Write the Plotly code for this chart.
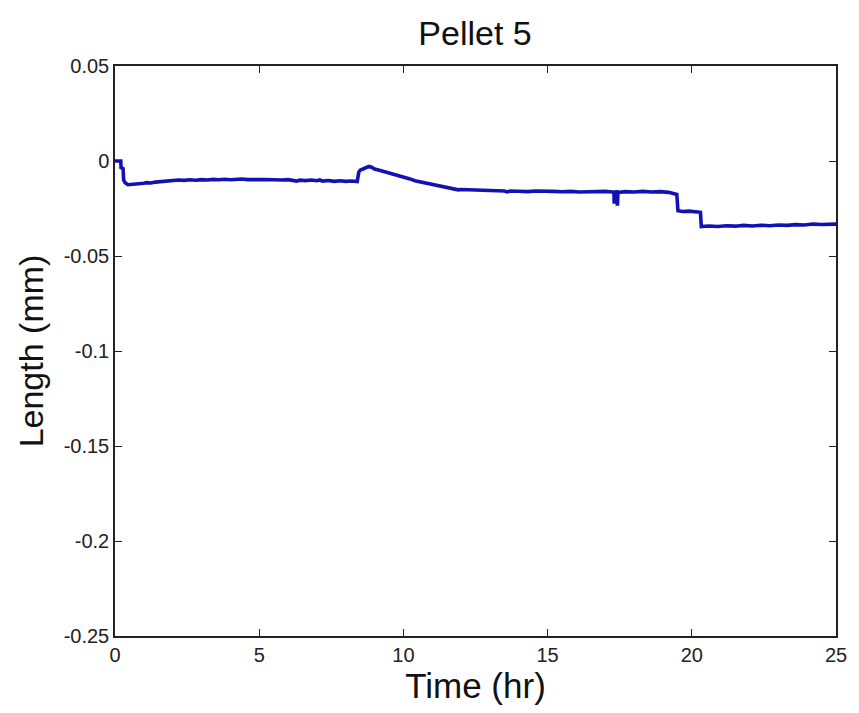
import plotly.graph_objects as go

# Pellet 5 length record (hours, mm)
time_hr = [
    0.0, 0.1, 0.2, 0.21, 0.28, 0.3, 0.35, 0.45, 0.6, 0.75, 0.9, 1.0, 1.1,
    1.25, 1.4, 1.6, 1.8, 2.0, 2.2, 2.4, 2.6, 2.8, 3.0, 3.2, 3.4, 3.6, 3.8,
    4.0, 4.2, 4.4, 4.6, 4.8, 5.0, 5.2, 5.4, 5.6, 5.8, 6.0, 6.2, 6.3, 6.4,
    6.6, 6.8, 7.0, 7.1, 7.2, 7.4, 7.6, 7.8, 8.0, 8.2, 8.4, 8.45, 8.5, 8.6,
    8.7, 8.8, 8.9, 9.0, 9.2, 9.4, 9.6, 9.8, 10.0, 10.2, 10.4, 10.6, 10.8,
    11.0, 11.2, 11.4, 11.6, 11.8, 11.9, 12.0, 12.3, 12.6, 12.9, 13.2, 13.5,
    13.6, 13.7, 14.0, 14.3, 14.6, 14.9, 15.2, 15.5, 15.8, 16.1, 16.4, 16.7,
    17.0, 17.25, 17.3, 17.31, 17.33, 17.4, 17.42, 17.44, 17.7, 18.0, 18.3,
    18.6, 18.9, 19.2, 19.4, 19.48, 19.52, 19.7, 19.9, 20.1, 20.3, 20.33,
    20.6, 20.9, 21.2, 21.5, 21.8, 22.1, 22.4, 22.7, 23.0, 23.3, 23.6, 23.9,
    24.2, 24.5, 24.8, 25.0,
]
length_mm = [
    0.0, 0.0, 0.0, -0.0035, -0.004, -0.010, -0.0115, -0.0125, -0.0123,
    -0.0124, -0.0119, -0.0117, -0.0114, -0.0116, -0.0111, -0.0108, -0.0104,
    -0.0103, -0.0100, -0.0102, -0.0099, -0.0101, -0.0098, -0.0100, -0.0097,
    -0.0099, -0.0096, -0.0099, -0.0097, -0.0095, -0.0098, -0.0096, -0.0098,
    -0.0097, -0.0099, -0.0097, -0.0100, -0.0098, -0.0102, -0.0106, -0.0101,
    -0.0103, -0.0100, -0.0104, -0.0100, -0.0106, -0.0103, -0.0107, -0.0104,
    -0.0107, -0.0105, -0.0108, -0.0060, -0.0048, -0.0042, -0.0036, -0.0028,
    -0.0033, -0.0042, -0.0050, -0.0058, -0.0068, -0.0076, -0.0085, -0.0093,
    -0.0104, -0.0110, -0.0118, -0.0125, -0.0132, -0.0138, -0.0143, -0.0148,
    -0.0152, -0.0150, -0.0152, -0.0151, -0.0155, -0.0154, -0.0158, -0.0163,
    -0.0158, -0.0159, -0.0161, -0.0158, -0.0161, -0.0160, -0.0162, -0.0160,
    -0.0163, -0.0161, -0.0162, -0.0160, -0.0163, -0.0163, -0.0225, -0.0165,
    -0.0163, -0.0235, -0.0165, -0.0161, -0.0163, -0.0160, -0.0163, -0.0161,
    -0.0165, -0.0170, -0.0176, -0.0262, -0.0266, -0.0264, -0.0268, -0.0270,
    -0.0345, -0.0342, -0.0345, -0.0341, -0.0343, -0.0339, -0.0342, -0.0338,
    -0.0341, -0.0337, -0.0339, -0.0335, -0.0337, -0.0332, -0.0334, -0.0331,
    -0.0332,
]

x_ticks = [0, 5, 10, 15, 20, 25]
y_ticks = [0.05, 0, -0.05, -0.1, -0.15, -0.2, -0.25]
y_tick_text = ["0.05", "0", "-0.05", "-0.1", "-0.15", "-0.2", "-0.25"]

FONT = "Liberation Sans, Arial, sans-serif"

fig = go.Figure()
fig.add_trace(go.Scatter(
    x=time_hr, y=length_mm, mode="lines",
    line=dict(color="#1212b4", width=3.6),
    showlegend=False,
))

axis_common = dict(
    showgrid=False, zeroline=False, showline=True, linecolor="#222222",
    linewidth=1.5, mirror="ticks", ticks="inside", ticklen=7,
    tickcolor="#222222", tickwidth=1,
    tickfont=dict(family=FONT, size=20, color="#222222"),
)

fig.update_layout(
    width=859, height=713,
    margin=dict(l=115, r=18, t=66, b=77),
    paper_bgcolor="white", plot_bgcolor="white",
    title=dict(text="Pellet 5", x=0.553, xanchor="center", y=0.953,
               yanchor="middle",
               font=dict(family=FONT, size=34, color="#111111")),
    xaxis=dict(range=[0, 25], tickvals=x_ticks,
               title=dict(text="Time (hr)", standoff=4,
                          font=dict(family=FONT, size=35, color="#111111")),
               **axis_common),
    yaxis=dict(range=[-0.25, 0.05], tickvals=y_ticks, ticktext=y_tick_text,
               title=dict(text="Length (mm)", standoff=10,
                          font=dict(family=FONT, size=34, color="#111111")),
               **axis_common),
)

fig.write_html("out.html")
